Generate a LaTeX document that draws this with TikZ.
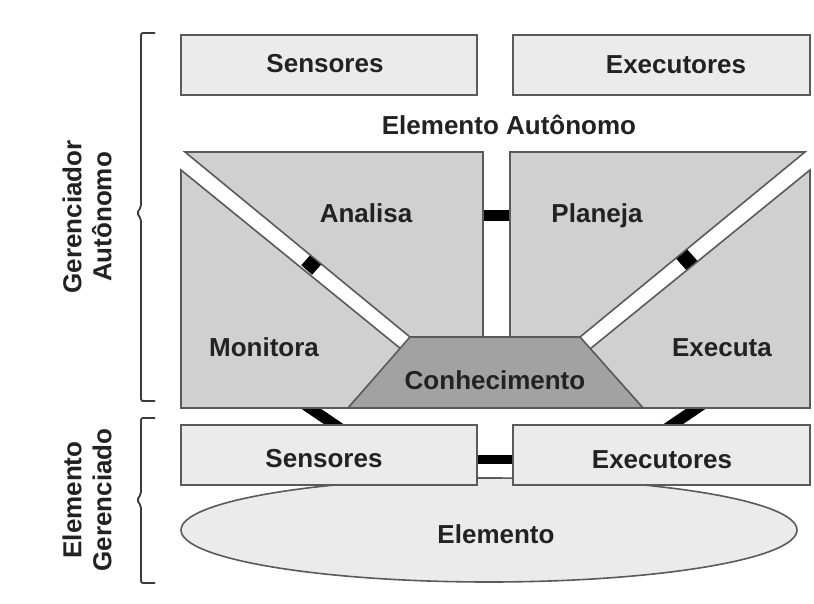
\documentclass[tikz,border=0pt]{standalone}
\usepackage{fontspec}
\setmainfont{Liberation Sans}
\usetikzlibrary{shapes.geometric}
\definecolor{lightc}{HTML}{EBEBEB}
\definecolor{midc}{HTML}{D0D0D0}
\definecolor{darkc}{HTML}{A2A2A2}
\definecolor{edgec}{HTML}{5A5A5A}
\definecolor{textc}{HTML}{222222}
\definecolor{bracec}{HTML}{3A3A3A}
\tikzset{
  lbl/.style={font=\fontsize{26}{30}\selectfont\bfseries, text=textc, inner sep=0pt, text height=19pt, text depth=5pt},
  sidelbl/.style={font=\fontsize{26}{30}\selectfont\bfseries, text=textc, inner sep=0pt},
  lightbox/.style={draw=edgec, line width=1.6pt, fill=lightc},
  midshape/.style={draw=edgec, line width=1.6pt, fill=midc},
  darkshape/.style={draw=edgec, line width=1.6pt, fill=darkc},
  blackbar/.style={draw=black, line cap=butt},
  bracket/.style={draw=bracec, line width=1.8pt, rounded corners=2pt},
}
\begin{document}
\begin{tikzpicture}[x=1pt,y=-1pt]
\useasboundingbox (0,0) rectangle (814,604);
\fill[white] (0,0) rectangle (814,604);

% managed element ellipse
\node[lightbox, ellipse, minimum width=616pt, minimum height=104pt, inner sep=0pt] (elem) at (489,530) {};

% coordinates for connectors
\coordinate (apA) at (478,216);
\coordinate (apB) at (515,216);
\coordinate (lsA) at (306.6,259.2);
\coordinate (lsB) at (317.4,268.8);
\coordinate (rsA) at (692.4,255.2);
\coordinate (rsB) at (681.6,264.8);
\coordinate (mlA) at (303.5,403.6);
\coordinate (mlB) at (341.5,429.4);
\coordinate (erA) at (703.5,403.6);
\coordinate (erB) at (665.5,429.4);

% black connector pieces (drawn under shapes)
\draw[blackbar, line width=11pt] (apA) -- (apB);
\draw[blackbar, line width=16pt] (lsA) -- (lsB);
\draw[blackbar, line width=16pt] (rsA) -- (rsB);
\draw[blackbar, line width=11pt] (mlA) -- (mlB);
\draw[blackbar, line width=11pt] (erA) -- (erB);

% top boxes
\node[lightbox, minimum width=296pt, minimum height=60pt, inner sep=0pt] (sensT) at (329,65) {};
\node[lightbox, minimum width=297pt, minimum height=60pt, inner sep=0pt] (execT) at (661.5,65) {};

% MAPE shapes
\path[midshape] (181,170) -- (401,349) -- (348,408) -- (181,408) -- cycle;
\path[midshape] (810,170) -- (590,349) -- (643,408) -- (810,408) -- cycle;
\path[midshape] (185,152) -- (483,152) -- (483,337) -- (410,337) -- cycle;
\path[midshape] (510,152) -- (805,152) -- (580,337) -- (510,337) -- cycle;
\path[darkshape] (410,337) -- (580,337) -- (643,408) -- (348,408) -- cycle;

% lower boxes
\node[lightbox, minimum width=296pt, minimum height=60pt, inner sep=0pt] (sensB) at (329,455) {};
\node[lightbox, minimum width=297pt, minimum height=60pt, inner sep=0pt] (execB) at (661.5,455) {};
\draw[blackbar, line width=9pt] (sensB.east |- 0,459) -- (execB.west |- 0,459);

% labels
\node[lbl] (tSensT) at (325,66) {Sensores};
\node[lbl] (tExecT) at (676,67) {Executores};
\node[lbl] (tEA) at (509,128) {Elemento Autônomo};
\node[lbl] (tAn) at (366,216) {Analisa};
\node[lbl] (tPl) at (597,216) {Planeja};
\node[lbl] (tMo) at (264,349) {Monitora};
\node[lbl] (tEx) at (722,349) {Executa};
\node[lbl] (tCo) at (495,382) {Conhecimento};
\node[lbl] (tSensB) at (324,460) {Sensores};
\node[lbl] (tExecB) at (662,461) {Executores};
\node[lbl] (tEl) at (496,536) {Elemento};

% brackets
\draw[bracket] (155,33) -- (141,33) -- (141,207) -- (137,213) -- (141,219) -- (141,401) -- (155,401);
\draw[bracket] (155,418) -- (141,418) -- (141,494) -- (137,500) -- (141,506) -- (141,583) -- (155,583);

\node[sidelbl, rotate=90, align=center] (tGA) at (87,217) {Gerenciador\\Autônomo};
\node[sidelbl, rotate=90, align=center] (tEG) at (87,500) {Elemento\\Gerenciado};
\end{tikzpicture}
\end{document}
